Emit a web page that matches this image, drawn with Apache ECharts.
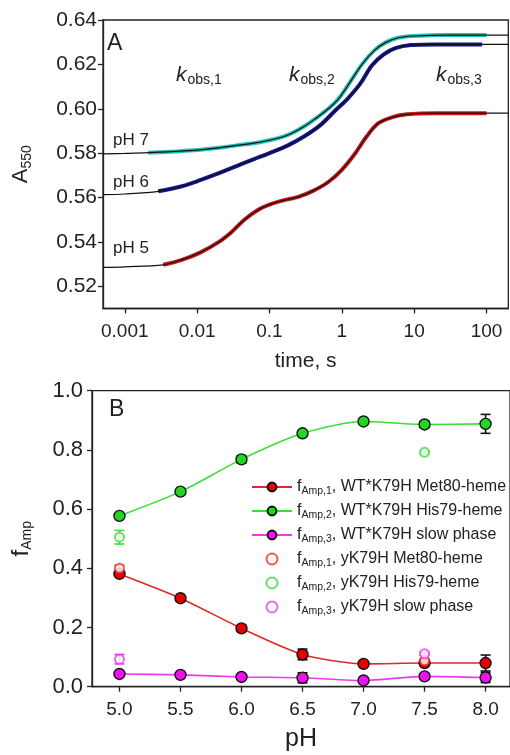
<!DOCTYPE html>
<html>
<head>
<meta charset="utf-8">
<script src="https://cdn.jsdelivr.net/npm/echarts@6/dist/echarts.min.js"></script>
<style>
  html, body { margin: 0; padding: 0; background: #fff; }
  #chart { width: 510px; height: 755px; }
</style>
</head>
<body>
<div id="chart"></div>
<script>
// ---- Panel A: absorbance at 550 nm vs. time (log scale) ----
const ph7Time = [0.0005, 0.001, 0.0021, 0.005, 0.01, 0.02, 0.035, 0.06, 0.1, 0.18, 0.3, 0.45, 0.65, 0.9, 1.3, 1.9, 2.8, 4, 6, 10, 30, 100, 200];
const ph7Abs  = [0.5797, 0.5799, 0.5802, 0.5808, 0.5814, 0.5824, 0.5835, 0.5845, 0.5858, 0.5882, 0.5920, 0.5960, 0.6000, 0.6045, 0.6120, 0.6200, 0.6262, 0.6298, 0.6320, 0.6328, 0.6332, 0.6332, 0.6332];
const ph7Span = [0.0021, 100];

const ph6Time = [0.0005, 0.001, 0.0029, 0.006, 0.011, 0.02, 0.035, 0.06, 0.1, 0.18, 0.3, 0.5, 0.8, 1.2, 1.8, 2.6, 3.8, 5.5, 9, 20, 87, 200];
const ph6Abs  = [0.5613, 0.5616, 0.5628, 0.5650, 0.5678, 0.5710, 0.5742, 0.5772, 0.5800, 0.5835, 0.5875, 0.5925, 0.5990, 0.6045, 0.6113, 0.6195, 0.6245, 0.6273, 0.6287, 0.6290, 0.6290, 0.6290];
const ph6Span = [0.0029, 87];

const ph5Time = [0.0005, 0.001, 0.0034, 0.006, 0.011, 0.02, 0.03, 0.045, 0.07, 0.1, 0.15, 0.25, 0.4, 0.65, 1.0, 1.5, 2.2, 3.2, 5, 8, 20, 100, 200];
const ph5Abs  = [0.5285, 0.5288, 0.5297, 0.5318, 0.5352, 0.5400, 0.5445, 0.5500, 0.5545, 0.5568, 0.5586, 0.5603, 0.5630, 0.5670, 0.5725, 0.5795, 0.5875, 0.5935, 0.5962, 0.5975, 0.5980, 0.5980, 0.5980];
const ph5Span = [0.0034, 100];

const timeTicks = [0.001, 0.01, 0.1, 1, 10, 100];
const absTicks  = [0.52, 0.54, 0.56, 0.58, 0.60, 0.62, 0.64];

// ---- Panel B: amplitude fractions vs. pH ----
const pH = [5.0, 5.5, 6.0, 6.5, 7.0, 7.5, 8.0];
const wtAmp1    = [0.381, 0.299, 0.197, 0.109, 0.077, 0.080, 0.080];
const wtAmp1Err = [0.008, 0.008, 0.010, 0.018, 0.006, 0.008, 0.027];
const wtAmp2    = [0.577, 0.659, 0.768, 0.856, 0.896, 0.886, 0.888];
const wtAmp2Err = [0.006, 0.006, 0.012, 0.006, 0.006, 0.011, 0.032];
const wtAmp3    = [0.043, 0.040, 0.033, 0.030, 0.021, 0.035, 0.031];
const wtAmp3Err = [0.006, 0.006, 0.006, 0.017, 0.006, 0.008, 0.017];

const ykPH      = [5.0, 7.5];
const ykAmp1    = [0.400, 0.088];
const ykAmp1Err = [0.010, 0.006];
const ykAmp2    = [0.505, 0.792];
const ykAmp2Err = [0.023, 0.005];
const ykAmp3    = [0.093, 0.111];
const ykAmp3Err = [0.016, 0.005];

const pHTicks = [5.0, 5.5, 6.0, 6.5, 7.0, 7.5, 8.0];

const legendSub  = ['Amp,1', 'Amp,2', 'Amp,3', 'Amp,1', 'Amp,2', 'Amp,3'];
const legendText = ['WT*K79H Met80-heme', 'WT*K79H His79-heme', 'WT*K79H slow phase',
                    'yK79H Met80-heme', 'yK79H His79-heme', 'yK79H slow phase'];

const FONT = '"Liberation Sans", Arial, sans-serif';
const INK = '#222';

function pairs(xs, ys) { return xs.map((x, i) => [x, ys[i]]); }
function within(xs, ys, span) {
  return pairs(xs, ys).filter(p => p[0] >= span[0] && p[0] <= span[1]);
}
function errRows(xs, ys, es) { return xs.map((x, i) => [x, ys[i] - es[i], ys[i] + es[i]]); }

function errorBars(params, api) {
  const x = api.value(0);
  const lo = api.coord([x, api.value(1)]);
  const hi = api.coord([x, api.value(2)]);
  const c = api.visual('color');
  const w = 5;
  const st = { stroke: c, lineWidth: 1.6 };
  return {
    type: 'group',
    children: [
      { type: 'line', shape: { x1: lo[0], y1: lo[1], x2: hi[0], y2: hi[1] }, style: st },
      { type: 'line', shape: { x1: lo[0] - w, y1: lo[1], x2: lo[0] + w, y2: lo[1] }, style: st },
      { type: 'line', shape: { x1: hi[0] - w, y1: hi[1], x2: hi[0] + w, y2: hi[1] }, style: st }
    ]
  };
}

const chart = echarts.init(document.getElementById('chart'), null, { renderer: 'canvas' });

const traceColors = { ph7: '#22c4b8', ph6: '#15159a', ph5: '#c81818' };

function fitLine(xs, ys) {
  return {
    type: 'line', xAxisIndex: 0, yAxisIndex: 0, data: pairs(xs, ys),
    showSymbol: false, smooth: 0.35,
    lineStyle: { color: '#111', width: 1.2 }, z: 4, silent: true
  };
}
function traceLine(xs, ys, span, color) {
  return {
    type: 'line', xAxisIndex: 0, yAxisIndex: 0, data: within(xs, ys, span),
    showSymbol: false, smooth: 0.35,
    lineStyle: { color: color, width: 4 }, z: 3, silent: true
  };
}

const names = legendText.map((t, i) => 'f' + i);

const subRich = {
  f: { fontSize: 16, fontFamily: FONT, color: INK, lineHeight: 19 },
  s: { fontSize: 10.5, fontFamily: FONT, color: INK, lineHeight: 11, padding: [9, 0, 0, 0] },
  t: { fontSize: 16, fontFamily: FONT, color: INK, lineHeight: 19 }
};

const option = {
  animation: false,
  backgroundColor: '#fff',
  textStyle: { fontFamily: FONT, color: INK },
  grid: [
    { left: 97.3, top: 20, right: 1.7, bottom: 446.5, show: true, borderColor: INK, borderWidth: 1.3 },
    { left: 90.5, top: 390.7, right: -4.5, bottom: 68.3, show: true, borderColor: INK, borderWidth: 1.3 }
  ],
  xAxis: [
    {
      type: 'log', gridIndex: 0, min: 0.0005, max: 200, logBase: 10,
      name: 'time, s', nameLocation: 'middle', nameGap: 42,
      nameTextStyle: { fontSize: 21, color: INK, fontFamily: FONT },
      axisLine: { show: true, lineStyle: { color: INK, width: 1.3 } },
      axisTick: { show: true, inside: false, length: 5, customValues: timeTicks, lineStyle: { color: INK, width: 1.3 } },
      axisLabel: { customValues: timeTicks, fontSize: 19, color: INK, margin: 14, fontFamily: FONT,
                   formatter: v => String(Number(v.toPrecision(3))) },
      splitLine: { show: false }, minorTick: { show: false }
    },
    {
      type: 'value', gridIndex: 1, min: 4.775, max: 8.2,
      name: 'pH', nameLocation: 'middle', nameGap: 40,
      nameTextStyle: { fontSize: 25, color: INK, fontFamily: FONT },
      axisLine: { show: true, lineStyle: { color: INK, width: 1.3 } },
      axisTick: { show: true, inside: false, length: 5, customValues: pHTicks, lineStyle: { color: INK, width: 1.3 } },
      axisLabel: { customValues: pHTicks, fontSize: 19, color: INK, margin: 14, fontFamily: FONT,
                   formatter: v => Number(v).toFixed(1) },
      splitLine: { show: false }
    }
  ],
  yAxis: [
    {
      type: 'value', gridIndex: 0, min: 0.51, max: 0.64,
      name: '{m|A}{s|550}', nameLocation: 'middle', nameGap: 70, nameRotate: 90,
      nameTextStyle: { rich: {
        m: { fontSize: 22, fontFamily: FONT, color: INK, lineHeight: 24 },
        s: { fontSize: 14, fontFamily: FONT, color: INK, lineHeight: 14, padding: [12, 0, 0, 0] }
      } },
      axisLine: { show: true, lineStyle: { color: INK, width: 1.3 } },
      axisTick: { show: true, inside: false, length: 5, customValues: absTicks, lineStyle: { color: INK, width: 1.3 } },
      axisLabel: { customValues: absTicks, fontSize: 21, color: INK, margin: 6, fontFamily: FONT,
                   formatter: v => Number(v).toFixed(2) },
      splitLine: { show: false }
    },
    {
      type: 'value', gridIndex: 1, min: 0, max: 1.0, interval: 0.2,
      name: '{m|f}{s|Amp}', nameLocation: 'middle', nameGap: 58, nameRotate: 90,
      nameTextStyle: { rich: {
        m: { fontSize: 24, fontFamily: FONT, color: INK, lineHeight: 26 },
        s: { fontSize: 14, fontFamily: FONT, color: INK, lineHeight: 14, padding: [12, 0, 0, 0] }
      } },
      axisLine: { show: true, lineStyle: { color: INK, width: 1.3 } },
      axisTick: { show: true, inside: false, length: 5, lineStyle: { color: INK, width: 1.3 } },
      axisLabel: { fontSize: 22, color: INK, margin: 9, fontFamily: FONT,
                   formatter: v => Number(v).toFixed(1) },
      splitLine: { show: false }
    }
  ],
  legend: {
    orient: 'vertical', left: 246, top: 472, itemGap: 4,
    itemWidth: 40, itemHeight: 11,
    data: names,
    formatter: name => {
      const i = names.indexOf(name);
      return '{f|f}{s|' + legendSub[i] + '}{t|, ' + legendText[i] + '}';
    },
    textStyle: { rich: subRich },
    selectedMode: false
  },
  graphic: [
    { type: 'text', left: 107, top: 32, style: { text: 'A', fontSize: 23, fontFamily: FONT, fill: INK } },
    { type: 'text', left: 109, top: 398, style: { text: 'B', fontSize: 23, fontFamily: FONT, fill: INK } },
    { type: 'text', left: 113, top: 132, style: { text: 'pH 7', fontSize: 17, fontFamily: FONT, fill: INK } },
    { type: 'text', left: 113, top: 174, style: { text: 'pH 6', fontSize: 17, fontFamily: FONT, fill: INK } },
    { type: 'text', left: 113, top: 240, style: { text: 'pH 5', fontSize: 17, fontFamily: FONT, fill: INK } },
    ...[['obs,1', 176], ['obs,2', 289], ['obs,3', 436]].map(([sub, x]) => ({
      type: 'text', left: x, top: 63,
      style: {
        text: '{k|k}{s|' + sub + '}',
        rich: {
          k: { fontSize: 21, fontStyle: 'italic', fontFamily: FONT, fill: INK, lineHeight: 22 },
          s: { fontSize: 14, fontFamily: FONT, fill: INK, lineHeight: 14, padding: [10, 0, 0, 1] }
        }
      }
    }))
  ],
  series: [
    // Panel A: measured traces under the black fits
    traceLine(ph7Time, ph7Abs, ph7Span, traceColors.ph7),
    traceLine(ph6Time, ph6Abs, ph6Span, traceColors.ph6),
    traceLine(ph5Time, ph5Abs, ph5Span, traceColors.ph5),
    fitLine(ph7Time, ph7Abs),
    fitLine(ph6Time, ph6Abs),
    fitLine(ph5Time, ph5Abs),

    // Panel B: error bars
    { type: 'custom', xAxisIndex: 1, yAxisIndex: 1, renderItem: errorBars, data: errRows(pH, wtAmp2, wtAmp2Err), itemStyle: { color: '#111' }, z: 2, silent: true },
    { type: 'custom', xAxisIndex: 1, yAxisIndex: 1, renderItem: errorBars, data: errRows(pH, wtAmp1, wtAmp1Err), itemStyle: { color: '#111' }, z: 2, silent: true },
    { type: 'custom', xAxisIndex: 1, yAxisIndex: 1, renderItem: errorBars, data: errRows(pH, wtAmp3, wtAmp3Err), itemStyle: { color: '#111' }, z: 2, silent: true },
    { type: 'custom', xAxisIndex: 1, yAxisIndex: 1, renderItem: errorBars, data: errRows(ykPH, ykAmp1, ykAmp1Err), itemStyle: { color: '#e83030' }, z: 2, silent: true },
    { type: 'custom', xAxisIndex: 1, yAxisIndex: 1, renderItem: errorBars, data: errRows(ykPH, ykAmp2, ykAmp2Err), itemStyle: { color: '#3ddc3d' }, z: 2, silent: true },
    { type: 'custom', xAxisIndex: 1, yAxisIndex: 1, renderItem: errorBars, data: errRows(ykPH, ykAmp3, ykAmp3Err), itemStyle: { color: '#e83ee8' }, z: 2, silent: true },

    // Panel B: WT*K79H lines with filled markers
    { name: names[0], type: 'line', xAxisIndex: 1, yAxisIndex: 1, data: pairs(pH, wtAmp1),
      smooth: 0.25, symbol: 'circle', symbolSize: 11, z: 4,
      lineStyle: { color: '#e02828', width: 1.6 },
      itemStyle: { color: '#e80000', borderColor: '#111', borderWidth: 1.4 } },
    { name: names[1], type: 'line', xAxisIndex: 1, yAxisIndex: 1, data: pairs(pH, wtAmp2),
      smooth: 0.25, symbol: 'circle', symbolSize: 11, z: 4,
      lineStyle: { color: '#3ade3a', width: 1.6 },
      itemStyle: { color: '#22d622', borderColor: '#111', borderWidth: 1.4 } },
    { name: names[2], type: 'line', xAxisIndex: 1, yAxisIndex: 1, data: pairs(pH, wtAmp3),
      smooth: 0.25, symbol: 'circle', symbolSize: 11, z: 4,
      lineStyle: { color: '#ea3cea', width: 1.6 },
      itemStyle: { color: '#ee10ee', borderColor: '#111', borderWidth: 1.4 } },

    // Panel B: yK79H open markers
    { name: names[3], type: 'scatter', xAxisIndex: 1, yAxisIndex: 1, data: pairs(ykPH, ykAmp1),
      symbol: 'circle', symbolSize: 9, z: 5,
      itemStyle: { color: '#fff', borderColor: '#e83030', borderWidth: 2 } },
    { name: names[4], type: 'scatter', xAxisIndex: 1, yAxisIndex: 1, data: pairs(ykPH, ykAmp2),
      symbol: 'circle', symbolSize: 9, z: 5,
      itemStyle: { color: '#fff', borderColor: '#3ddc3d', borderWidth: 2 } },
    { name: names[5], type: 'scatter', xAxisIndex: 1, yAxisIndex: 1, data: pairs(ykPH, ykAmp3),
      symbol: 'circle', symbolSize: 9, z: 5,
      itemStyle: { color: '#fff', borderColor: '#e83ee8', borderWidth: 2 } }
  ]
};

chart.setOption(option);
</script>
</body>
</html>
